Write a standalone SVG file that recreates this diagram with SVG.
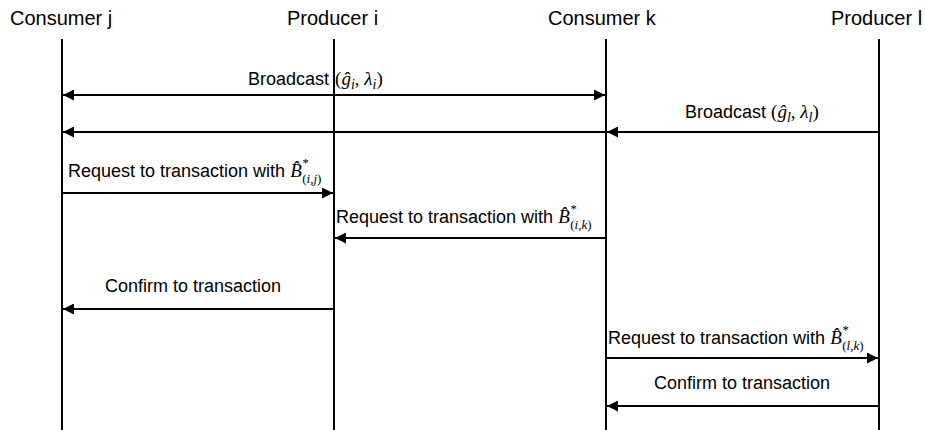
<svg xmlns="http://www.w3.org/2000/svg" width="925" height="430" viewBox="0 0 925 430">
<defs>
<marker id="ah" viewBox="0 0 10 10" refX="10" refY="5" markerWidth="11" markerHeight="11" markerUnits="userSpaceOnUse" orient="auto-start-reverse">
<path d="M0,0 L10,5 L0,10 Z" fill="#000"/>
</marker>
<style>
.hdr{font-family:"Liberation Sans",Arial,sans-serif;font-size:20px;fill:#000}
.lbl{font-family:"Liberation Sans",Arial,sans-serif;font-size:18px;fill:#000}
.m{font-family:"Liberation Serif","Times New Roman",serif;font-style:italic;font-size:19px}
.s{font-size:14px}
.t{font-size:13px}
.up{font-style:normal}
.life{stroke:#000;stroke-width:2;fill:none}
.msg{stroke:#000;stroke-width:2;fill:none;marker-end:url(#ah)}
</style>
</defs>
<rect width="925" height="430" fill="#fff"/>
<g id="consumer-j"><text class="hdr" x="10" y="25">Consumer j</text><line class="life" x1="62" y1="39" x2="62" y2="430"/></g>
<g id="producer-i"><text class="hdr" x="287" y="25">Producer i</text><line class="life" x1="334" y1="39" x2="334" y2="430"/></g>
<g id="consumer-k"><text class="hdr" x="548" y="25">Consumer k</text><line class="life" x1="606" y1="39" x2="606" y2="430"/></g>
<g id="producer-l"><text class="hdr" x="831" y="25">Producer l</text><line class="life" x1="879" y1="39" x2="879" y2="430"/></g>
<g id="connectors">
<line class="msg" x1="63" y1="95" x2="605" y2="95" marker-start="url(#ah)"/>
<line class="msg" x1="878" y1="132" x2="607" y2="132"/>
<line class="msg" x1="605" y1="132" x2="63" y2="132"/>
<line class="msg" x1="63" y1="193" x2="333" y2="193"/>
<line class="msg" x1="605" y1="238" x2="335" y2="238"/>
<line class="msg" x1="333" y1="309" x2="63" y2="309"/>
<line class="msg" x1="607" y1="358" x2="878" y2="358"/>
<line class="msg" x1="878" y1="406" x2="607" y2="406"/>
</g>
<g id="labels">
<text class="lbl" x="248" y="85">Broadcast<tspan class="m" dx="6"><tspan class="up">(</tspan>ĝ<tspan class="s" dy="4">i</tspan><tspan class="up" dy="-4">, </tspan>λ<tspan class="s" dy="4">i</tspan><tspan class="up" dy="-4">)</tspan></tspan></text>
<text class="lbl" x="685" y="118">Broadcast <tspan class="m"><tspan class="up">(</tspan>ĝ<tspan class="s" dy="4">l</tspan><tspan class="up" dy="-4">, </tspan>λ<tspan class="s" dy="4">l</tspan><tspan class="up" dy="-4">)</tspan></tspan></text>
<text class="lbl" x="68" y="177" font-size="17.2">Request to transaction with <tspan class="m">B̂<tspan class="t" dy="-10">*</tspan><tspan class="t" dx="-6" dy="16"><tspan class="up">(</tspan>i,j<tspan class="up">)</tspan></tspan></tspan></text>
<text class="lbl" x="336" y="223">Request to transaction with <tspan class="m">B̂<tspan class="t" dy="-10">*</tspan><tspan class="t" dx="-6" dy="16"><tspan class="up">(</tspan>i,k<tspan class="up">)</tspan></tspan></tspan></text>
<text class="lbl" x="105" y="292">Confirm to transaction</text>
<text class="lbl" x="608" y="344">Request to transaction with <tspan class="m">B̂<tspan class="t" dy="-10">*</tspan><tspan class="t" dx="-6" dy="16"><tspan class="up">(</tspan>l,k<tspan class="up">)</tspan></tspan></tspan></text>
<text class="lbl" x="654" y="389">Confirm to transaction</text>
</g>
</svg>
